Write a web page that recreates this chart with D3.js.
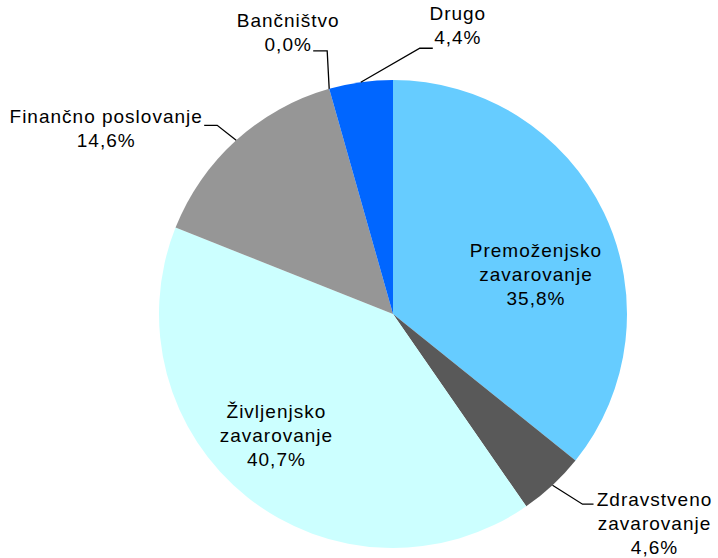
<!DOCTYPE html>
<html>
<head>
<meta charset="utf-8">
<script src="https://cdn.jsdelivr.net/npm/d3@7"></script>
<style>
  html, body { margin: 0; padding: 0; background: #fff; }
  svg text { font-family: "Liberation Sans", Arial, sans-serif; font-size: 19px; fill: #000; letter-spacing: 1px; }
</style>
</head>
<body>
<div id="chart"></div>
<script>
// data
const categories = ['Premoženjsko zavarovanje', 'Zdravstveno zavarovanje', 'Življenjsko zavarovanje',
  'Finančno poslovanje', 'Bančništvo', 'Drugo'];
const categoryLines = [['Premoženjsko', 'zavarovanje'], ['Zdravstveno', 'zavarovanje'], ['Življenjsko', 'zavarovanje'],
  ['Finančno poslovanje'], ['Bančništvo'], ['Drugo']];
const shares = [35.8, 4.6, 40.7, 14.6, 0.0, 4.4];
const colors = ['#66ccff', '#595959', '#ccffff', '#969696', '#333399', '#0066ff'];

// label placement relative to slice's outer arc midpoint (as in the original layout)
const labelPos = [
  { dx: -68, dy: 44 },
  { dx: 102, dy: 21, leader: [[30, 19], [41, 19]] },
  { dx: 29, dy: -79 },
  { dx: -130, dy: -17, leader: [[-19, -15], [-32, -15]] },
  { dx: -41, dy: -62, leader: [[-2, -38], [-16, -38]] },
  { dx: 97, dy: -62, leader: [[59, -34], [72, -34]] }
];

const width = 718;
const height = 558;
const cx = 393, cy = 314, radius = 234;
const lineH = 24;

const svg = d3.select('#chart').append('svg')
  .attr('width', width)
  .attr('height', height);

const g = svg.append('g').attr('transform', 'translate(' + cx + ',' + cy + ')');

const pie = d3.pie().sort(null).value(d => d.value);
const arcs = pie(shares.map((v, i) => ({ name: categories[i], value: v, i: i })));

const arc = d3.arc().innerRadius(0).outerRadius(radius);
const rim = d3.arc().innerRadius(radius).outerRadius(radius);

g.selectAll('path.slice')
  .data(arcs)
  .join('path')
  .attr('class', 'slice')
  .attr('d', arc)
  .attr('fill', d => colors[d.data.i]);

const fmt = v => v.toFixed(1).replace('.', ',') + '%';

// leader lines
g.selectAll('path.leader')
  .data(arcs.filter(d => labelPos[d.data.i].leader))
  .join('path')
  .attr('class', 'leader')
  .attr('fill', 'none')
  .attr('stroke', '#000')
  .attr('stroke-width', 1.3)
  .attr('d', d => {
    const p = rim.centroid(d);
    const pts = [p].concat(labelPos[d.data.i].leader.map(o => [p[0] + o[0], p[1] + o[1]]));
    return d3.line()(pts);
  });

// labels
const labels = g.selectAll('text.label')
  .data(arcs)
  .join('text')
  .attr('class', 'label')
  .attr('text-anchor', 'middle');

labels.each(function(d) {
  const p = rim.centroid(d);
  const pos = labelPos[d.data.i];
  const x = p[0] + pos.dx;
  const y = p[1] + pos.dy;
  const lines = categoryLines[d.data.i].concat([fmt(d.data.value)]);
  const t = d3.select(this);
  lines.forEach((s, k) => {
    t.append('tspan')
      .attr('x', x)
      .attr('y', y + k * lineH)
      .text(s);
  });
});
</script>
</body>
</html>
